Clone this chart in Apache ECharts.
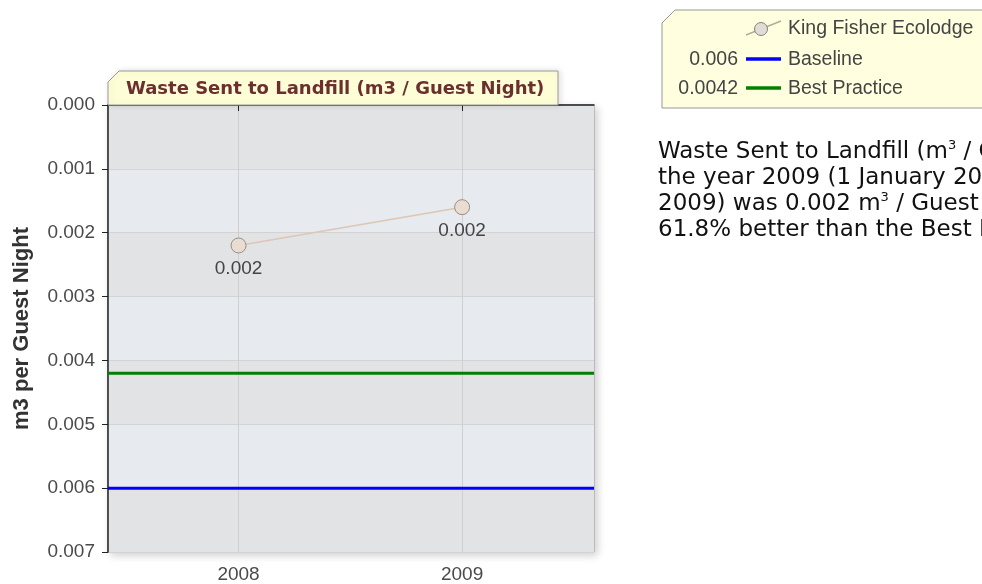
<!DOCTYPE html>
<html style="height: 100%">
  <head>
    <meta charset="utf-8" />
  </head>
  <body style="height: 100%; margin: 0; background: #fff">
    <div id="container" style="width: 982px; height: 584px"></div>

    <script
      type="text/javascript"
      src="https://cdn.jsdelivr.net/npm/echarts@6/dist/echarts.min.js"
    ></script>
    <script type="text/javascript">
      // data
      var years = [2008, 2009];
      var lodgeValues = [0.0022, 0.0016];
      var lodgeName = "King Fisher Ecolodge";
      var baselineValue = 0.006;
      var bestPracticeValue = 0.0042;

      var chartTitle = "Waste Sent to Landfill (m3 / Guest Night)";
      var summaryText =
        "Waste Sent to Landfill (m{sup|3} / Guest Night) for\n" +
        "the year 2009 (1 January 2009 - 31 December\n" +
        "2009) was 0.002 m{sup|3} / Guest Night, which is\n" +
        "61.8% better than the Best Practice.";

      // x range of the plot (years sit off-centre like the original)
      var xMin = 2007.416;
      var xMax = 2009.59;

      var dom = document.getElementById("container");
      var myChart = echarts.init(dom);

      var lodgeData = years.map(function (y, i) {
        return [y, lodgeValues[i]];
      });
      // flat reference lines across the whole plot
      var baselineData = [
        [xMin, baselineValue],
        [xMax, baselineValue],
      ];
      var bestPracticeData = [
        [xMin, bestPracticeValue],
        [xMax, bestPracticeValue],
      ];

      var labelFont = "Liberation Sans";

      var option = {
        animation: false,
        backgroundColor: "#fff",
        grid: {
          left: 108,
          right: 388,
          top: 105,
          bottom: 32,
          show: true,
          backgroundColor: "#e3e4e6",
          borderColor: "#999",
          borderWidth: 1,
          shadowBlur: 8,
          shadowOffsetX: 3,
          shadowOffsetY: 3,
          shadowColor: "rgba(0,0,0,0.18)",
        },
        xAxis: {
          type: "value",
          min: xMin,
          max: xMax,
          axisLine: { show: true, lineStyle: { color: "#222", width: 1.5 } },
          axisTick: {
            show: true,
            length: 6,
            customValues: years,
            lineStyle: { color: "#222" },
          },
          axisLabel: {
            customValues: years,
            color: "#4a4a4a",
            fontFamily: labelFont,
            fontSize: 19,
            margin: 13,
            formatter: function (v) {
              return String(v);
            },
          },
          splitLine: { show: true, lineStyle: { color: "#cfcfcf" } },
        },
        yAxis: {
          type: "value",
          inverse: true,
          min: 0,
          max: 0.007,
          interval: 0.001,
          name: "m3 per Guest Night",
          nameLocation: "middle",
          nameRotate: 90,
          nameGap: 75,
          nameTextStyle: {
            fontFamily: labelFont,
            fontWeight: "bold",
            fontSize: 22,
            color: "#333",
          },
          axisLine: { show: true, lineStyle: { color: "#222", width: 1.5 } },
          axisTick: { show: true, length: 6, lineStyle: { color: "#222" } },
          axisLabel: {
            color: "#4a4a4a",
            fontFamily: labelFont,
            fontSize: 19,
            margin: 13,
            formatter: function (v) {
              return v.toFixed(3);
            },
          },
          splitLine: { show: true, lineStyle: { color: "#d3d3d3" } },
          splitArea: {
            show: true,
            areaStyle: { color: ["#e2e3e5", "#e7eaee"] },
          },
        },
        series: [
          {
            name: "Baseline",
            type: "line",
            data: baselineData,
            symbol: "none",
            silent: true,
            z: 3,
            lineStyle: { color: "#0000ff", width: 3 },
          },
          {
            name: "Best Practice",
            type: "line",
            data: bestPracticeData,
            symbol: "none",
            silent: true,
            z: 3,
            lineStyle: { color: "#008000", width: 3 },
          },
          {
            name: lodgeName,
            type: "line",
            data: lodgeData,
            symbol: "circle",
            symbolSize: 15,
            z: 5,
            lineStyle: { color: "#dcc6b6", width: 1.5 },
            itemStyle: {
              color: "#e9ddd1",
              borderColor: "#9a8d82",
              borderWidth: 1,
            },
            label: {
              show: true,
              position: "bottom",
              distance: 6,
              color: "#444",
              fontFamily: labelFont,
              fontSize: 19,
              formatter: function (p) {
                return p.value[1].toFixed(3);
              },
            },
          },
        ],
        graphic: [
          // title tab above the plot
          {
            type: "polygon",
            z: 10,
            shape: {
              points: [
                [108, 82],
                [119, 71],
                [558, 71],
                [558, 105],
                [108, 105],
              ],
            },
            style: {
              fill: "#fefed6",
              stroke: "#999",
              lineWidth: 1,
              shadowBlur: 6,
              shadowOffsetX: 2,
              shadowOffsetY: 0,
              shadowColor: "rgba(0,0,0,0.12)",
            },
          },
          {
            type: "text",
            z: 11,
            x: 126,
            y: 89,
            style: {
              text: chartTitle,
              fill: "#6b2f2f",
              font: "bold 18px 'DejaVu Sans'",
              verticalAlign: "middle",
            },
          },
          // legend box
          {
            type: "polygon",
            z: 10,
            shape: {
              points: [
                [662, 23],
                [675, 10],
                [990, 10],
                [990, 108],
                [662, 108],
              ],
            },
            style: { fill: "#ffffe0", stroke: "#999", lineWidth: 1 },
          },
          {
            type: "line",
            z: 11,
            shape: { x1: 746, y1: 35, x2: 781, y2: 21 },
            style: { stroke: "#b8a898", lineWidth: 1.5 },
          },
          {
            type: "circle",
            z: 12,
            shape: { cx: 761, cy: 29, r: 6.5 },
            style: { fill: "#e2dcd6", stroke: "#8a8078", lineWidth: 1 },
          },
          {
            type: "text",
            z: 11,
            x: 788,
            y: 29,
            style: {
              text: lodgeName,
              fill: "#444",
              font: "19.5px 'Liberation Sans'",
              verticalAlign: "middle",
            },
          },
          {
            type: "text",
            z: 11,
            x: 738,
            y: 60,
            style: {
              text: String(baselineValue),
              fill: "#444",
              font: "19.5px 'Liberation Sans'",
              align: "right",
              verticalAlign: "middle",
            },
          },
          {
            type: "line",
            z: 11,
            shape: { x1: 746, y1: 59, x2: 781, y2: 59 },
            style: { stroke: "#0000ff", lineWidth: 3.5 },
          },
          {
            type: "text",
            z: 11,
            x: 788,
            y: 60,
            style: {
              text: "Baseline",
              fill: "#444",
              font: "19.5px 'Liberation Sans'",
              verticalAlign: "middle",
            },
          },
          {
            type: "text",
            z: 11,
            x: 738,
            y: 89,
            style: {
              text: String(bestPracticeValue),
              fill: "#444",
              font: "19.5px 'Liberation Sans'",
              align: "right",
              verticalAlign: "middle",
            },
          },
          {
            type: "line",
            z: 11,
            shape: { x1: 746, y1: 88, x2: 781, y2: 88 },
            style: { stroke: "#008000", lineWidth: 3.5 },
          },
          {
            type: "text",
            z: 11,
            x: 788,
            y: 89,
            style: {
              text: "Best Practice",
              fill: "#444",
              font: "19.5px 'Liberation Sans'",
              verticalAlign: "middle",
            },
          },
          // summary text on the right
          {
            type: "text",
            z: 11,
            x: 658,
            y: 139,
            style: {
              text: summaryText,
              fill: "#111",
              font: "23px 'DejaVu Sans'",
              lineHeight: 26,
              rich: {
                sup: {
                  fontSize: 13,
                  fontFamily: "DejaVu Sans",
                  verticalAlign: "top",
                  fill: "#111",
                  lineHeight: 26,
                },
              },
            },
          },
        ],
      };

      myChart.setOption(option);
    </script>
  </body>
</html>
